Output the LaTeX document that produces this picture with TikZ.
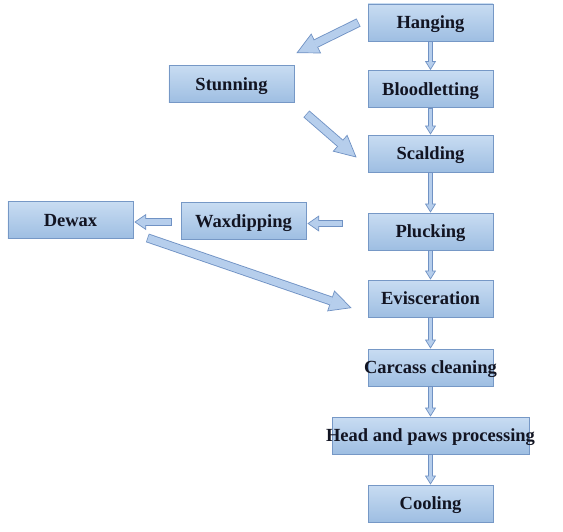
\documentclass[tikz,border=0pt]{standalone}
\usepackage{fontspec}
\setmainfont{Liberation Serif}
\usepackage{xcolor}
\definecolor{boxtop}{RGB}{200, 220, 242}
\definecolor{boxbot}{RGB}{158, 190, 226}
\definecolor{boxedge}{RGB}{118, 152, 198}
\definecolor{arrowfill}{RGB}{182, 206, 236}
\definecolor{arrowedge}{RGB}{112, 146, 196}
\definecolor{ink}{RGB}{18, 20, 34}
\usepackage{tikz}
\usetikzlibrary{arrows.meta,positioning}
\newcommand{\spill}[1]{\makebox[0pt][c]{#1}}

\begin{document}
\begin{tikzpicture}[
  x=0.03cm, y=-0.03cm,
  stage/.style={draw=boxedge, top color=boxtop, bottom color=boxbot, line width=0.7pt, minimum width=3.75cm, minimum height=1.11cm, inner sep=0pt, text height=1.05em, text depth=0em, text=ink, font=\bfseries\fontsize{15.8}{18}\selectfont},
  thinflow/.style={draw=arrowedge, line width=4.3pt, -{Triangle[length=7.7pt, width=9.4pt, fill=arrowfill, line width=0.6pt]}, postaction={draw=arrowfill, line width=3pt, -, shorten <=0.6pt, shorten >=6.7pt}},
  midflow/.style={draw=arrowedge, line width=6pt, -{Triangle[length=10pt, width=13.7pt, fill=arrowfill, line width=0.6pt]}, postaction={draw=arrowfill, line width=4.6pt, -, shorten <=0.6pt, shorten >=9pt}},
  bigflow/.style={draw=arrowedge, line width=7.7pt, -{Triangle[length=18.8pt, width=18.8pt, fill=arrowfill, line width=0.6pt]}, postaction={draw=arrowfill, line width=6.2pt, -, shorten <=0.6pt, shorten >=17.8pt}}
]
\useasboundingbox (0,0) rectangle (563,531);

% main line
\node[stage] (hang) at (430.5,22.5) {Hanging};
\node[stage] (bleed) at (430.5,89) {Bloodletting};
\node[stage] (scald) at (430.5,153.5) {Scalding};
\node[stage] (pluck) at (430.5,231.5) {Plucking};
\node[stage] (evisc) at (430.5,298.5) {Evisceration};
\node[stage] (clean) at (430.5,367.5) {\spill{Carcass cleaning}};
\node[stage, minimum width=5.91cm] (headpaw) at (430.5,435.5) {\spill{Head and paws processing}};
\node[stage] (cool) at (430.5,503.5) {Cooling};

% side steps
\node[stage] (stun) at (231.5,84) {Stunning};
\node[stage] (waxdip) at (243.5,221) {Waxdipping};
\node[stage] (dewax) at (70.5,220) {Dewax};

\draw[thinflow] (hang) -- (bleed);
\draw[thinflow] (bleed) -- (scald);
\draw[thinflow] (scald) -- (pluck);
\draw[thinflow] (pluck) -- (evisc);
\draw[thinflow] (evisc) -- (clean);
\draw[thinflow] (clean) -- (headpaw);
\draw[thinflow] (headpaw) -- (cool);

\draw[bigflow] ([shift={(-9,0)}]hang.west) -- ([shift={(2,-12)}]stun.north east);
\draw[bigflow] ([shift={(12,11)}]stun.south east) -- ([shift={(-11,4)}]scald.west);
\draw[midflow] ([shift={(-25,-8)}]pluck.west) -- ([shift={(1,2.5)}]waxdip.east);
\draw[midflow] ([shift={(-9,1)}]waxdip.west) -- ([shift={(1,2)}]dewax.east);
\draw[bigflow] ([shift={(14,-1)}]dewax.south east) -- ([shift={(-16,9.5)}]evisc.west);
\end{tikzpicture}
\end{document}
